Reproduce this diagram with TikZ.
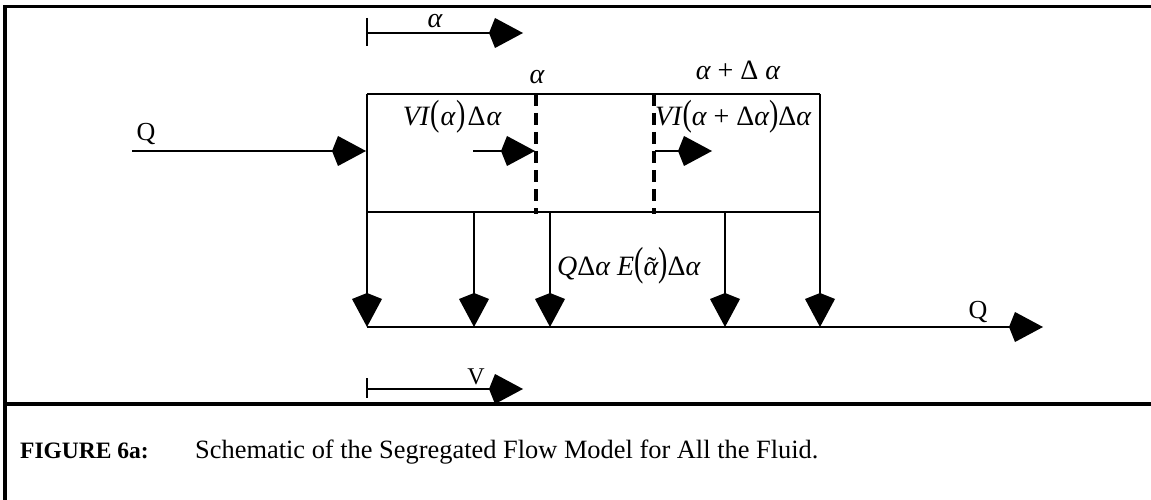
\documentclass[tikz,border=0pt]{standalone}
\usepackage{fontspec}
\setmainfont{Liberation Serif}
\usetikzlibrary{arrows.meta}
\tikzset{
  ln/.style={line width=2.6pt},
  frameln/.style={line width=3.6pt},
  arr/.style={ln,-{Kite[length=34pt,width=30pt,inset=6pt]}},
  dashln/.style={line width=4.5pt,dash pattern=on 12pt off 7pt},
  lbl/.style={inner sep=0pt,font=\fontsize{24}{27}\selectfont},
  qlbl/.style={inner sep=0pt,font=\fontsize{26}{29}\selectfont},
  mlbl/.style={inner sep=0pt,font=\fontsize{28}{31}\selectfont},
  caplbl/.style={inner sep=0pt,font=\fontsize{26.4}{29}\selectfont},
  figlbl/.style={inner sep=0pt,font=\fontsize{23.5}{27}\selectfont\bfseries},
}
\newcommand{\ital}[1]{{\itshape #1}}
\newcommand{\lp}{\scalebox{1}[1.3]{(}}
\newcommand{\rp}{\scalebox{1}[1.3]{)}}
\newcommand{\atil}{\ooalign{\itshape α\cr\hidewidth\kern2pt\raisebox{-1pt}{˜}\hidewidth\cr}}
\begin{document}
\begin{tikzpicture}[x=1pt,y=-1pt]
\useasboundingbox (0,0) rectangle (1151,500);
% frame
\coordinate (fTL) at (5,6.5);
\coordinate (fTR) at (1151,6.5);
\coordinate (fBL) at (5,500);
\coordinate (sL) at (5,404);
\coordinate (sR) at (1151,404);
\draw[frameln] (fTR) -- (fTL) -- (fBL);
\draw[frameln] (sL) -- (sR);
% alpha arrow (top)
\coordinate (a0) at (367,33);
\coordinate (a1) at (523,33);
\coordinate (a0t) at (367,18);
\coordinate (a0b) at (367,46);
\draw[ln] (a0t) -- (a0b);
\draw[arr] (a0) -- (a1);
\node[mlbl] (alab) at (435,21) {\ital{α}};
% box
\coordinate (bTL) at (367,94);
\coordinate (bTR) at (820,94);
\coordinate (mL) at (367,212);
\coordinate (mR) at (820,212);
\draw[ln] (bTL) -- (bTR);
\draw[ln] (mL) -- (mR);
% dashed lines
\coordinate (d1t) at (536,94);
\coordinate (d1b) at (536,214);
\coordinate (d2t) at (654,94);
\coordinate (d2b) at (654,214);
\draw[dashln] (d1t) -- (d1b);
\draw[dashln] (d2t) -- (d2b);
\node[mlbl] (al1) at (537,77) {\ital{α}};
\node[mlbl] (al2) at (738,70) {\ital{α} + Δ \ital{α}};
% inlet
\coordinate (in0) at (132,151);
\coordinate (in1) at (366,151);
\draw[arr] (in0) -- (in1);
\node[qlbl] (Qin) at (146,134) {Q};
% VI labels
\node[mlbl] (vi1) at (452,117) {\ital{VI}\kern1pt\lp\kern1pt\ital{α}\kern1pt\rp\kern2pt Δ\kern1pt\ital{α}};
\node[mlbl,anchor=west] (vi2) at (655,117) {\ital{VI}\kern1pt\lp\ital{α} + Δ\ital{α}\rp Δ\ital{α}};
% small arrows
\coordinate (s1a) at (473,151);
\coordinate (s1b) at (535,151);
\coordinate (s2a) at (655,151);
\coordinate (s2b) at (712,151);
\draw[arr] (s1a) -- (s1b);
\draw[arr] (s2a) -- (s2b);
% bottom line
\coordinate (bl0) at (367,327);
\coordinate (bl1) at (1043,327);
\draw[arr] (bl0) -- (bl1);
\node[qlbl] (Qout) at (978,312) {Q};
% down arrows
\coordinate (p1) at (474,212);
\coordinate (p2) at (550,212);
\coordinate (p3) at (725,212);
\coordinate (q0) at (367,327);
\coordinate (q1) at (474,327);
\coordinate (q2) at (550,327);
\coordinate (q3) at (725,327);
\coordinate (q4) at (820,327);
\draw[arr] (bTL) -- (q0);
\draw[arr] (p1) -- (q1);
\draw[arr] (p2) -- (q2);
\draw[arr] (p3) -- (q3);
\draw[arr] (bTR) -- (q4);
\node[mlbl,anchor=west] (qe) at (557,266) {\ital{Q}Δ\ital{α} \ital{E}\scalebox{1}[1.45]{(}\atil\scalebox{1}[1.45]{)}Δ\ital{α}};
% V arrow
\coordinate (v0) at (367,389);
\coordinate (v1) at (523,389);
\coordinate (v0t) at (367,378);
\coordinate (v0b) at (367,398);
\draw[ln] (v0t) -- (v0b);
\draw[arr] (v0) -- (v1);
\node[lbl] (vlab) at (476,377) {V};
% caption
\node[figlbl,anchor=base west] (fig) at (20,458) {FIGURE 6a:};
\node[caplbl,anchor=base west] (cap) at (195,458) {Schematic of the Segregated Flow Model for All the Fluid.};
\end{tikzpicture}
\end{document}
